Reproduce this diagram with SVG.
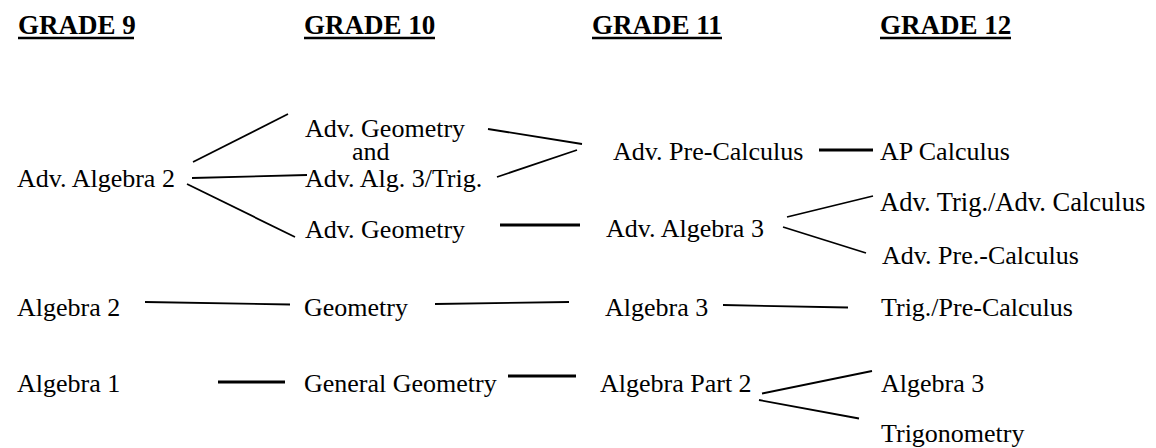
<svg xmlns="http://www.w3.org/2000/svg" width="1156" height="448" viewBox="0 0 1156 448">
<style>
text{font-family:"Liberation Serif","Times New Roman",serif;fill:#000}
.h{font-size:27px;font-weight:bold}
.t{font-size:26px}
.u{stroke:#000;stroke-width:2.5}
.c line{stroke:#000;stroke-width:1.8}
.c line.k{stroke-width:3}
</style>
<rect width="1156" height="448" fill="#fff"/>
<g id="headers">
<text class="h" x="18" y="34">GRADE 9</text>
<line class="u" x1="18" y1="38" x2="134" y2="38"/>
<text class="h" x="304" y="34">GRADE 10</text>
<line class="u" x1="304" y1="38" x2="435" y2="38"/>
<text class="h" x="592" y="34">GRADE 11</text>
<line class="u" x1="592" y1="38" x2="722" y2="38"/>
<text class="h" x="880" y="34">GRADE 12</text>
<line class="u" x1="880" y1="38" x2="1011" y2="38"/>
</g>
<g id="n-adv-alg2"><text class="t" x="17" y="187">Adv. Algebra 2</text></g>
<g id="n-advgeo-and"><text class="t" x="305" y="137">Adv. Geometry</text>
<text class="t" x="352" y="160">and</text>
<text class="t" x="305" y="187">Adv. Alg. 3/Trig.</text></g>
<g id="n-adv-geo"><text class="t" x="305" y="238">Adv. Geometry</text></g>
<g id="n-adv-precalc"><text class="t" x="613" y="160">Adv. Pre-Calculus</text></g>
<g id="n-ap-calc"><text class="t" x="880" y="160">AP Calculus</text></g>
<g id="n-adv-alg3"><text class="t" x="606" y="237">Adv. Algebra 3</text></g>
<g id="n-adv-trig"><text class="t" x="880" y="211" style="font-size:26.5px">Adv. Trig./Adv. Calculus</text></g>
<g id="n-adv-pre"><text class="t" x="882" y="264">Adv. Pre.-Calculus</text></g>
<g id="n-alg2"><text class="t" x="17" y="316">Algebra 2</text></g>
<g id="n-geo"><text class="t" x="304" y="316">Geometry</text></g>
<g id="n-alg3"><text class="t" x="605" y="316">Algebra 3</text></g>
<g id="n-trig-pre"><text class="t" x="881" y="316">Trig./Pre-Calculus</text></g>
<g id="n-alg1"><text class="t" x="17" y="392">Algebra 1</text></g>
<g id="n-gen-geo"><text class="t" x="304" y="392">General Geometry</text></g>
<g id="n-alg-part2"><text class="t" x="600" y="392">Algebra Part 2</text></g>
<g id="n-alg3-r"><text class="t" x="881" y="392">Algebra 3</text></g>
<g id="n-trig"><text class="t" x="881" y="442">Trigonometry</text></g>
<g id="connectors" class="c">
<line x1="193" y1="162" x2="288" y2="114"/>
<line x1="192" y1="178" x2="307" y2="175"/>
<line x1="187" y1="184" x2="295" y2="237"/>
<line x1="488" y1="129" x2="582" y2="144"/>
<line x1="497" y1="177" x2="577" y2="150"/>
<line class="k" x1="500" y1="225" x2="580" y2="225"/>
<line class="k" x1="819" y1="150" x2="873" y2="150"/>
<line x1="787" y1="217" x2="873" y2="196"/>
<line x1="783" y1="227" x2="866" y2="253"/>
<line x1="145" y1="302" x2="290" y2="304.5"/>
<line x1="435" y1="304" x2="569" y2="302"/>
<line x1="723" y1="305" x2="848" y2="307.5"/>
<line class="k" x1="218" y1="382" x2="285" y2="382"/>
<line class="k" x1="508" y1="376" x2="576" y2="376"/>
<line x1="762" y1="393.5" x2="872" y2="371"/>
<line x1="759" y1="400" x2="859" y2="418.5"/>
</g>
</svg>
